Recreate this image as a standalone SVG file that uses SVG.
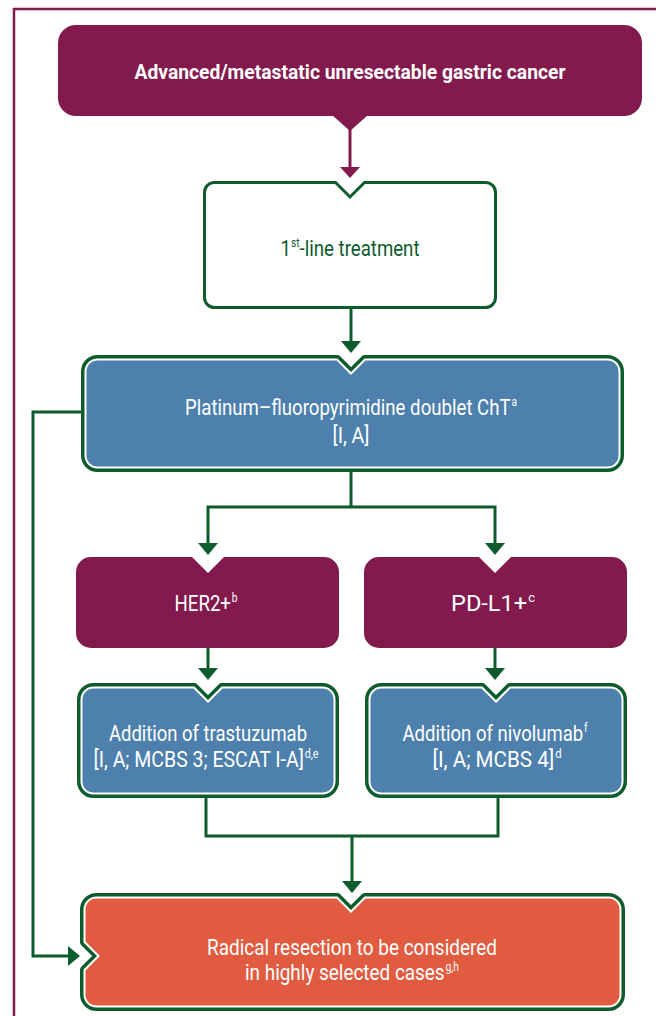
<svg xmlns="http://www.w3.org/2000/svg" width="656" height="1016" viewBox="0 0 656 1016">
<defs>
<style>
.t{font-family:Roboto,"Liberation Sans",sans-serif;font-size:22px;fill:#ffffff;text-anchor:middle}
.b{font-weight:bold;font-size:20px}
.g{fill:#0E5B2E}
.sup{font-size:12px}
.ln{stroke:#0E5B2E;stroke-width:3;fill:none}
.ah{fill:#0E5B2E}
.frame{stroke:#831A4E;stroke-width:2.5;fill:none}
.gb{fill:none;stroke:#0E5B2E;stroke-width:9;stroke-linejoin:round}
.wb{stroke:#ffffff;stroke-width:2}
.blue{fill:#4D80AC}
.orange{fill:#E15B41}
.purple{fill:#831A4E}
</style>
</defs>
<g id="frame">
<path class="frame" d="M13,9 H656 M14,8 V1016"/>
</g>
<g id="connectors">
<path d="M350,128 V168" stroke="#831A4E" stroke-width="3" fill="none"/>
<polygon points="340,167 360,167 350,178" fill="#831A4E"/>
<path class="ln" d="M351,309 V342"/>
<polygon class="ah" points="341,341 361,341 351,353"/>
<path class="ln" d="M351,472 V507 M208,507 H495 M208,505.5 V545 M495,505.5 V545"/>
<polygon class="ah" points="198,543 218,543 208,555"/>
<polygon class="ah" points="485,543 505,543 495,555"/>
<path class="ln" d="M208,648 V670"/>
<polygon class="ah" points="198,668 218,668 208,680"/>
<path class="ln" d="M495,648 V670"/>
<polygon class="ah" points="485,668 505,668 495,680"/>
<path class="ln" d="M206,798 V836 H498 V798 M352,836 V883"/>
<polygon class="ah" points="342,881 362,881 352,893"/>
<path class="ln" d="M81,412 H33 V956 H69"/>
<polygon class="ah" points="68,946 68,966 80,956"/>
</g>
<g id="n1">
<rect x="58" y="25" width="584" height="91" rx="18" class="purple"/>
<polygon points="332,115 368,115 350,131" class="purple"/>
<text class="t b" x="350" y="79" textLength="431" lengthAdjust="spacingAndGlyphs">Advanced/metastatic unresectable gastric cancer</text>
</g>
<g id="n2">
<path d="M215,182.5 H335.5 L350,197 L364.5,182.5 H485.5 A10,10 0 0 1 495.5,192.5 V297.5 A10,10 0 0 1 485.5,307.5 H214.5 A10,10 0 0 1 204.5,297.5 V192.5 A10,10 0 0 1 214.5,182.5 Z" fill="#ffffff" stroke="#0E5B2E" stroke-width="3"/>
<text class="t g" x="350" y="256" textLength="139" lengthAdjust="spacingAndGlyphs">1<tspan class="sup" dy="-9">st</tspan><tspan dy="9">-line treatment</tspan></text>
</g>
<g id="n3">
<path class="gb" d="M97.5,359.5 H337 L351,373.5 L365,359.5 H607.5 A12,12 0 0 1 619.5,371.5 V455.5 A12,12 0 0 1 607.5,467.5 H97.5 A12,12 0 0 1 85.5,455.5 V371.5 A12,12 0 0 1 97.5,359.5 Z"/>
<path class="blue wb" d="M97.5,359.5 H337 L351,373.5 L365,359.5 H607.5 A12,12 0 0 1 619.5,371.5 V455.5 A12,12 0 0 1 607.5,467.5 H97.5 A12,12 0 0 1 85.5,455.5 V371.5 A12,12 0 0 1 97.5,359.5 Z"/>
<text class="t" x="351" y="415" textLength="332" lengthAdjust="spacingAndGlyphs">Platinum–fluoropyrimidine doublet ChT<tspan class="sup" dx="1" dy="-9">a</tspan></text>
<text class="t" x="351" y="443" textLength="37" lengthAdjust="spacingAndGlyphs">[I, A]</text>
</g>
<g id="n4">
<path class="purple" d="M91,557 H192 L208,573 L224,557 H324 A15,15 0 0 1 339,572 V633 A15,15 0 0 1 324,648 H91 A15,15 0 0 1 76,633 V572 A15,15 0 0 1 91,557 Z"/>
<text class="t" x="206" y="611" textLength="63" lengthAdjust="spacingAndGlyphs">HER2+<tspan class="sup" dx="1" dy="-9">b</tspan></text>
</g>
<g id="n5">
<path class="purple" d="M379,557 H479 L495,573 L511,557 H612 A15,15 0 0 1 627,572 V633 A15,15 0 0 1 612,648 H379 A15,15 0 0 1 364,633 V572 A15,15 0 0 1 379,557 Z"/>
<text class="t" x="493" y="611" textLength="84" lengthAdjust="spacingAndGlyphs">PD-L1+<tspan class="sup" dx="1" dy="-9">c</tspan></text>
</g>
<g id="n6">
<path class="gb" d="M93.5,687.5 H194 L208,701.5 L222,687.5 H322.5 A12,12 0 0 1 334.5,699.5 V781.5 A12,12 0 0 1 322.5,793.5 H93.5 A12,12 0 0 1 81.5,781.5 V699.5 A12,12 0 0 1 93.5,687.5 Z"/>
<path class="blue wb" d="M93.5,687.5 H194 L208,701.5 L222,687.5 H322.5 A12,12 0 0 1 334.5,699.5 V781.5 A12,12 0 0 1 322.5,793.5 H93.5 A12,12 0 0 1 81.5,781.5 V699.5 A12,12 0 0 1 93.5,687.5 Z"/>
<text class="t" x="208" y="741" textLength="198" lengthAdjust="spacingAndGlyphs">Addition of trastuzumab</text>
<text class="t" x="206" y="767" textLength="225" lengthAdjust="spacingAndGlyphs">[I, A; MCBS 3; ESCAT I-A]<tspan class="sup" dx="1" dy="-9">d,e</tspan></text>
</g>
<g id="n7">
<path class="gb" d="M381.5,687.5 H482 L496,701.5 L510,687.5 H610.5 A12,12 0 0 1 622.5,699.5 V781.5 A12,12 0 0 1 610.5,793.5 H381.5 A12,12 0 0 1 369.5,781.5 V699.5 A12,12 0 0 1 381.5,687.5 Z"/>
<path class="blue wb" d="M381.5,687.5 H482 L496,701.5 L510,687.5 H610.5 A12,12 0 0 1 622.5,699.5 V781.5 A12,12 0 0 1 610.5,793.5 H381.5 A12,12 0 0 1 369.5,781.5 V699.5 A12,12 0 0 1 381.5,687.5 Z"/>
<text class="t" x="495" y="741" textLength="185" lengthAdjust="spacingAndGlyphs">Addition of nivolumab<tspan class="sup" dx="1" dy="-9">f</tspan></text>
<text class="t" x="497" y="767" textLength="129" lengthAdjust="spacingAndGlyphs">[I, A; MCBS 4]<tspan class="sup" dx="1" dy="-9">d</tspan></text>
</g>
<g id="n8">
<path class="gb" d="M96.5,897.5 H337 L351,911.5 L365,897.5 H608.5 A12,12 0 0 1 620.5,909.5 V994.5 A12,12 0 0 1 608.5,1006.5 H96.5 A12,12 0 0 1 84.5,994.5 V970 L98.5,956 L84.5,942 V909.5 A12,12 0 0 1 96.5,897.5 Z"/>
<path class="orange wb" d="M96.5,897.5 H337 L351,911.5 L365,897.5 H608.5 A12,12 0 0 1 620.5,909.5 V994.5 A12,12 0 0 1 608.5,1006.5 H96.5 A12,12 0 0 1 84.5,994.5 V970 L98.5,956 L84.5,942 V909.5 A12,12 0 0 1 96.5,897.5 Z"/>
<text class="t" x="352" y="955" textLength="290" lengthAdjust="spacingAndGlyphs">Radical resection to be considered</text>
<text class="t" x="352" y="980" textLength="214" lengthAdjust="spacingAndGlyphs">in highly selected cases<tspan class="sup" dx="1" dy="-9">g,h</tspan></text>
</g>
</svg>
